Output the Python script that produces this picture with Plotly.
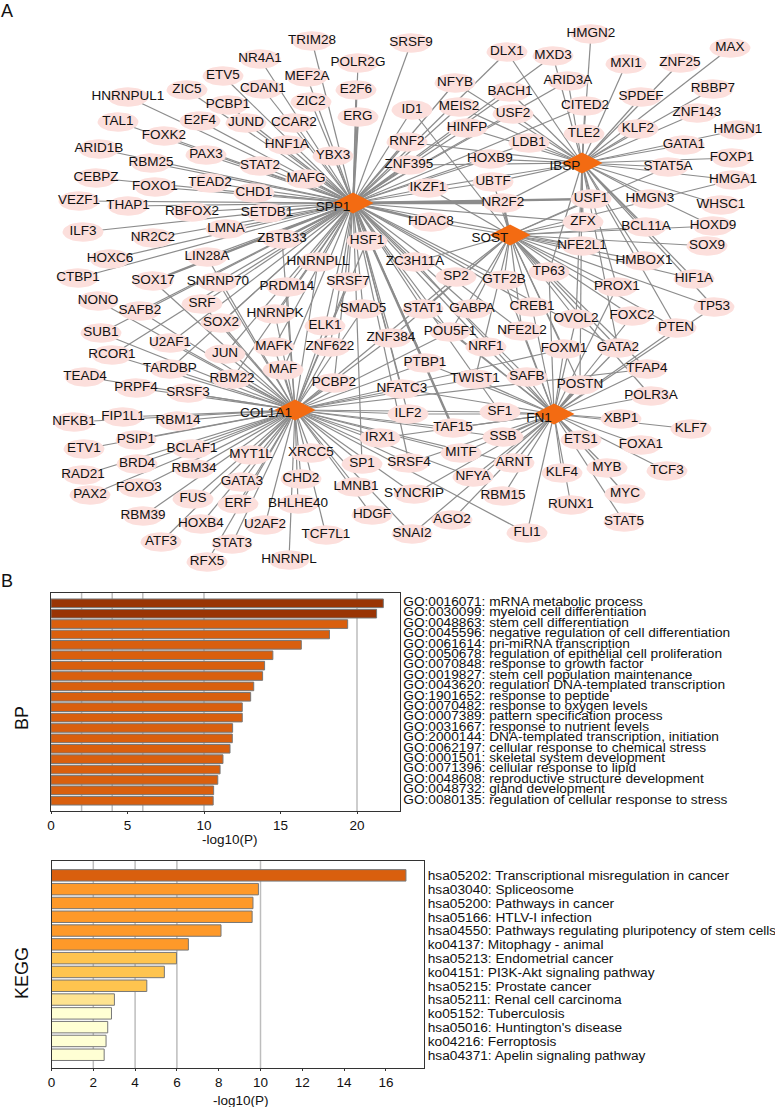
import math
import plotly.graph_objects as go

FONT = "Liberation Sans, Arial, Helvetica, sans-serif"

# ---- Panel A: network ----
HUB_NAMES = ["SPP1", "IBSP", "SOST", "COL1A1", "FN1"]
HUB_KEYS = ["S", "I", "O", "C", "F"]
HUB_X = [353, 582, 510, 295, 554]
HUB_Y = [203, 163, 235, 410, 414]
HUB_LABEL_X = [333, 565, 490, 266, 539]
HUB_LABEL_Y = [208, 167, 239, 414, 419]

NODE_NAMES = [
 "TRIM28","NR4A1","POLR2G","MEF2A","E2F6","ETV5","CDAN1","ZIC5","ZIC2","HNRNPUL1",
 "PCBP1","ERG","TAL1","E2F4","JUND","CCAR2","FOXK2","HNF1A","YBX3","ARID1B",
 "PAX3","RBM25","STAT2","MAFG","CEBPZ","TEAD2","FOXO1","CHD1","VEZF1","THAP1",
 "RBFOX2","SETDB1","ILF3","LMNA","NR2C2","ZBTB33","HSF1","HOXC6","LIN28A","HNRNPLL",
 "CTBP1","SOX17","SNRNP70","PRDM14","SRSF7","NONO","SAFB2","SRF","HNRNPK","SMAD5",
 "SOX2","SUB1","ELK1","U2AF1","MAFK","ZNF622","JUN","RCOR1","TARDBP","MAF",
 "TEAD4","RBM22","PCBP2","PRPF4","SRSF3","NFKB1","FIP1L1","RBM14","ETV1","PSIP1",
 "BCLAF1","MYT1L","XRCC5","IRX1","SP1","BRD4","RAD21","RBM34","CHD2","GATA3",
 "LMNB1","FOXO3","PAX2","FUS","ERF","BHLHE40","HDGF","ATF3","HOXB4","RBM39",
 "U2AF2","TCF7L1","STAT3","HNRNPL","RFX5","SRSF9","HMGN2","DLX1","MXD3","MXI1",
 "ZNF25","MAX","NFYB","ARID3A","BACH1","RBBP7","SPDEF","ID1","MEIS2","USF2",
 "CITED2","ZNF143","HINFP","TLE2","KLF2","HMGN1","RNF2","LDB1","GATA1","ZNF395",
 "HOXB9","FOXP1","STAT5A","IKZF1","UBTF","HMGA1","NR2F2","USF1","HMGN3","WHSC1",
 "HDAC8","ZFX","BCL11A","HOXD9","NFE2L1","SOX9","ZC3H11A","HMBOX1","TP63","SP2",
 "GTF2B","HIF1A","PROX1","STAT1","GABPA","CREB1","OVOL2","FOXC2","PTEN","TP53",
 "POU5F1","NFE2L2","ZNF384","NRF1","FOXM1","GATA2","PTBP1","TFAP4","TWIST1","SAFB",
 "POSTN","NFATC3","POLR3A","ILF2","SF1","XBP1","KLF7","TAF15","SSB","ETS1",
 "FOXA1","MITF","SRSF4","ARNT","KLF4","MYB","TCF3","NFYA","SYNCRIP","RBM15",
 "MYC","RUNX1","AGO2","STAT5","FLI1","SNAI2",
]
NODE_X = [
 312,260,358,307,356,223,263,187,311,128,
 228,358,118,200,246,294,164,287,333,99,
 206,151,260,306,96,210,155,254,79,128,
 192,267,83,226,153,282,367,110,207,318,
 78,153,218,287,348,98,140,202,275,363,
 221,101,325,170,274,330,225,112,170,283,
 85,232,334,136,188,74,123,178,84,136,
 192,251,311,380,362,137,83,194,301,242,
 356,139,90,193,238,298,372,161,201,143,
 265,326,232,289,207,411,591,507,553,626,
 680,730,455,568,510,713,641,412,459,513,
 585,697,467,584,638,738,407,529,684,409,
 490,732,668,428,493,733,503,591,650,721,
 431,583,646,713,582,707,415,644,549,456,
 504,694,617,423,472,532,576,632,676,714,
 450,522,391,486,564,618,425,647,475,527,
 580,402,651,408,500,621,691,453,503,581,
 641,461,409,514,562,607,667,473,414,503,
 625,571,452,624,527,412,
]
NODE_Y = [
 41,59,63,77,90,76,89,90,102,97,
 105,117,122,121,123,123,136,145,156,149,
 155,163,166,179,178,183,187,193,201,206,
 212,213,232,229,238,239,241,259,257,262,
 278,281,282,287,282,301,311,304,314,309,
 323,333,326,343,347,347,354,355,369,370,
 377,379,383,388,393,422,417,421,449,440,
 449,455,453,438,464,464,475,469,479,482,
 487,488,495,499,504,504,515,542,524,516,
 525,535,544,560,562,43,34,52,56,64,
 63,48,83,81,92,89,97,110,107,114,
 106,113,128,134,129,130,142,143,145,165,
 159,158,167,188,182,180,203,199,199,205,
 222,222,227,226,246,246,262,261,272,277,
 280,279,287,309,309,307,319,316,328,307,
 332,331,338,347,349,348,363,369,379,377,
 385,389,396,414,412,419,429,428,437,440,
 445,453,463,463,473,468,471,477,494,496,
 494,505,520,522,533,534,
]
NODE_HUBS = [
 "S","S","S","S","S","S","S","S","S","S",
 "S","S","S","S","S","S","S","S","S","S",
 "S","S","S","S","S","S","S","S","S","S",
 "S","S","S","S","S","SC","SC","S","SC","SC",
 "S","SC","SC","SC","SC","C","SC","SC","SC","SC",
 "SC","SC","SC","SC","SC","SC","SC","SC","SC","SC",
 "C","SC","SC","C","C","C","C","C","C","C",
 "C","C","C","CF","SC","C","C","C","C","C",
 "C","C","C","C","C","C","C","C","C","C",
 "C","C","C","C","C","S","I","SI","SI","I",
 "I","I","SI","SI","SI","I","I","SO","SI","SI",
 "SI","I","SI","I","I","I","SI","SI","I","SI",
 "SI","I","IO","SIO","SIO","IO","SIO","SIO","I","I",
 "SO","SIO","IO","IO","SO","O","SOF","IO","IOF","OC",
 "SOF","IO","IOF","SOF","SO","SOF","IOF","OF","IOF","IOF",
 "SOCF","SOF","SCO","SF","OCF","SIOF","SCF","OCF","OCF","SF",
 "IOF","SCF","OF","SCF","SCF","F","F","SCF","CF","F",
 "F","CF","SCF","CF","F","F","F","CF","CF","F",
 "F","F","F","F","CF","CF",
]
# Edges that read as heavier in the reference
HEAVY_NODES = ["TAF15", "SOX17", "ZBTB33", "ERG", "NR2F2", "NR2F2", "USF1", "HDAC8", "POSTN"]
HEAVY_HUBS = ["S", "S", "S", "S", "O", "S", "S", "S", "F"]

# ---- Panel B: enrichment bars ----
BP_LABELS = [
 "GO:0016071: mRNA metabolic process",
 "GO:0030099: myeloid cell differentiation",
 "GO:0048863: stem cell differentiation",
 "GO:0045596: negative regulation of cell differentiation",
 "GO:0061614: pri-miRNA transcription",
 "GO:0050678: regulation of epithelial cell proliferation",
 "GO:0070848: response to growth factor",
 "GO:0019827: stem cell population maintenance",
 "GO:0043620: regulation DNA-templated transcription",
 "GO:1901652: response to peptide",
 "GO:0070482: response to oxygen levels",
 "GO:0007389: pattern specification process",
 "GO:0031667: response to nutrient levels",
 "GO:2000144: DNA-templated transcription, initiation",
 "GO:0062197: cellular response to chemical stress",
 "GO:0001501: skeletal system development",
 "GO:0071396: cellular response to lipid",
 "GO:0048608: reproductive structure development",
 "GO:0048732: gland development",
 "GO:0080135: regulation of cellular response to stress",
]
BP_VALUES = [21.72, 21.28, 19.39, 18.2, 16.36, 14.5, 13.96, 13.83, 13.25, 13.05,
             12.5, 12.5, 11.87, 11.85, 11.7, 11.24, 11.05, 10.9, 10.63, 10.6]
BP_COLORS = ["#993404", "#993404"] + ["#D95F0E"] * 18
BP_GRID = [2, 4, 6, 10, 20]

KEGG_LABELS = [
 "hsa05202: Transcriptional misregulation in cancer",
 "hsa03040: Spliceosome",
 "hsa05200: Pathways in cancer",
 "hsa05166: HTLV-I infection",
 "hsa04550: Pathways regulating pluripotency of stem cells",
 "ko04137: Mitophagy - animal",
 "hsa05213: Endometrial cancer",
 "ko04151: PI3K-Akt signaling pathway",
 "hsa05215: Prostate cancer",
 "hsa05211: Renal cell carcinoma",
 "ko05152: Tuberculosis",
 "hsa05016: Huntington's disease",
 "ko04216: Ferroptosis",
 "hsa04371: Apelin signaling pathway",
]
KEGG_VALUES = [16.96, 9.9, 9.64, 9.6, 8.11, 6.55, 5.98, 5.4, 4.56, 3.01, 2.87, 2.69, 2.61, 2.52]
KEGG_COLORS = ["#D95F0E"] + ["#FE9929"] * 5 + ["#FEC44F"] * 3 + ["#FEE391"] + ["#FFFFD4"] * 4
KEGG_GRID = [2, 4, 6, 10]

assert len(NODE_NAMES) == len(NODE_X) == len(NODE_Y) == len(NODE_HUBS)

W, H = 775, 1107
hub_pos = {k: (x, y) for k, x, y in zip(HUB_KEYS, HUB_X, HUB_Y)}
node_pos = {n: (x, y) for n, x, y in zip(NODE_NAMES, NODE_X, NODE_Y)}

edge_x, edge_y = [], []
for x, y, hubs in zip(NODE_X, NODE_Y, NODE_HUBS):
    for h in hubs:
        hx, hy = hub_pos[h]
        edge_x += [x, hx, None]
        edge_y += [y, hy, None]

heavy_x, heavy_y = [], []
for n, h in zip(HEAVY_NODES, HEAVY_HUBS):
    heavy_x += [node_pos[n][0], hub_pos[h][0], None]
    heavy_y += [node_pos[n][1], hub_pos[h][1], None]

ell_x, ell_y = [], []
for x, y in zip(NODE_X, NODE_Y):
    for k in range(37):
        a = 2 * math.pi * k / 36
        ell_x.append(x + 20.5 * math.cos(a))
        ell_y.append(y + 9.7 * math.sin(a))
    ell_x.append(None)
    ell_y.append(None)

dia_x, dia_y = [], []
for x, y in zip(HUB_X, HUB_Y):
    dia_x += [x - 20.5, x, x + 20.5, x, x - 20.5, None]
    dia_y += [y, y - 10.5, y, y + 10.5, y, None]

fig = go.Figure()
fig.add_trace(go.Scatter(x=edge_x, y=edge_y, mode="lines", xaxis="x", yaxis="y",
                         line=dict(color="#8c8c8c", width=1.2), hoverinfo="skip"))
fig.add_trace(go.Scatter(x=heavy_x, y=heavy_y, mode="lines", xaxis="x", yaxis="y",
                         line=dict(color="#8c8c8c", width=2.4), hoverinfo="skip"))
fig.add_trace(go.Scatter(x=ell_x, y=ell_y, mode="lines", fill="toself", fillcolor="#FCDFDC",
                         line=dict(width=0, color="#FCDFDC"), xaxis="x", yaxis="y", hoverinfo="skip"))
fig.add_trace(go.Scatter(x=dia_x, y=dia_y, mode="lines", fill="toself", fillcolor="#F36B12",
                         line=dict(width=0, color="#F36B12"), xaxis="x", yaxis="y", hoverinfo="skip"))
fig.add_trace(go.Scatter(x=NODE_X + HUB_LABEL_X, y=NODE_Y + HUB_LABEL_Y, mode="text",
                         text=NODE_NAMES + HUB_NAMES, textposition="middle center",
                         textfont=dict(family=FONT, size=13.5, color="#111111"),
                         xaxis="x", yaxis="y", hoverinfo="text"))

fig.add_trace(go.Bar(x=BP_VALUES, y=BP_LABELS, orientation="h", xaxis="x2", yaxis="y2",
                     marker=dict(color=BP_COLORS, line=dict(color="#777777", width=1))))
fig.add_trace(go.Bar(x=KEGG_VALUES, y=KEGG_LABELS, orientation="h", xaxis="x3", yaxis="y3",
                     marker=dict(color=KEGG_COLORS, line=dict(color="#777777", width=1))))


def ax_x(rng, dom, dtick, anchor):
    return dict(domain=[dom[0] / W, dom[1] / W], range=rng, anchor=anchor, dtick=dtick, tick0=0,
                showgrid=False, zeroline=False, showline=True, mirror=True, linecolor="#333333",
                linewidth=1, ticks="outside", ticklen=2, tickcolor="#333333",
                tickfont=dict(family=FONT, size=13.5, color="#111111"))


def ax_y(rng, dom, anchor, labels, shift):
    return dict(domain=[1 - dom[1] / H, 1 - dom[0] / H], range=rng, anchor=anchor, side="right",
                type="category", showgrid=False, zeroline=False, showline=True, mirror=True,
                linecolor="#333333", linewidth=1, ticks="", automargin=False,
                tickmode="array", tickvals=labels, ticktext=labels,
                tickfont=dict(family=FONT, size=13.7, color="#111111"), ticklabelstandoff=0,
                ticklabelshift=shift)


grid_shapes = [dict(type="line", layer="below", xref="x2", yref="y2 domain", x0=g, x1=g, y0=0, y1=1,
                    line=dict(color="#BDBDBD", width=1.5)) for g in BP_GRID]
grid_shapes += [dict(type="line", layer="below", xref="x3", yref="y3 domain", x0=g, x1=g, y0=0, y1=1,
                     line=dict(color="#BDBDBD", width=1.5)) for g in KEGG_GRID]


def letter(text, x, y, angle=0, size=18):
    return dict(text=text, x=x / W, y=1 - y / H, xref="paper", yref="paper", showarrow=False,
                textangle=angle, xanchor="center", yanchor="middle",
                font=dict(family=FONT, size=size, color="#111111"))


fig.update_layout(
    width=W, height=H, autosize=False, margin=dict(l=0, r=0, t=0, b=0, autoexpand=False),
    paper_bgcolor="white", plot_bgcolor="rgba(0,0,0,0)", showlegend=False, bargap=0.17,
    xaxis=dict(domain=[0, 1], range=[0, W], visible=False, fixedrange=True),
    yaxis=dict(domain=[0, 1], range=[H, 0], visible=False, fixedrange=True),
    xaxis2=ax_x([0, 348.5 / 15.3], (51, 399.5), 5, "y2"),
    yaxis2=ax_y([19.99, -0.99], (593, 811), "x2", BP_LABELS, 2),
    xaxis3=ax_x([0, 372.5 / 20.9], (51.5, 424), 2, "y3"),
    yaxis3=ax_y([13.96, -1.04], (861, 1068), "x3", KEGG_LABELS, 0),
    shapes=grid_shapes,
    annotations=[letter("A", 7, 11), letter("B", 7, 581),
                 letter("BP", 22, 718, -90), letter("KEGG", 22, 973, -90),
                 letter("-log10(P)", 230, 839, 0, 13.5), letter("-log10(P)", 241, 1100, 0, 13.5)],
)

fig.write_html("out.html", config={"displayModeBar": False},
               post_script="document.body.style.margin='0';document.body.style.overflow='hidden';")
